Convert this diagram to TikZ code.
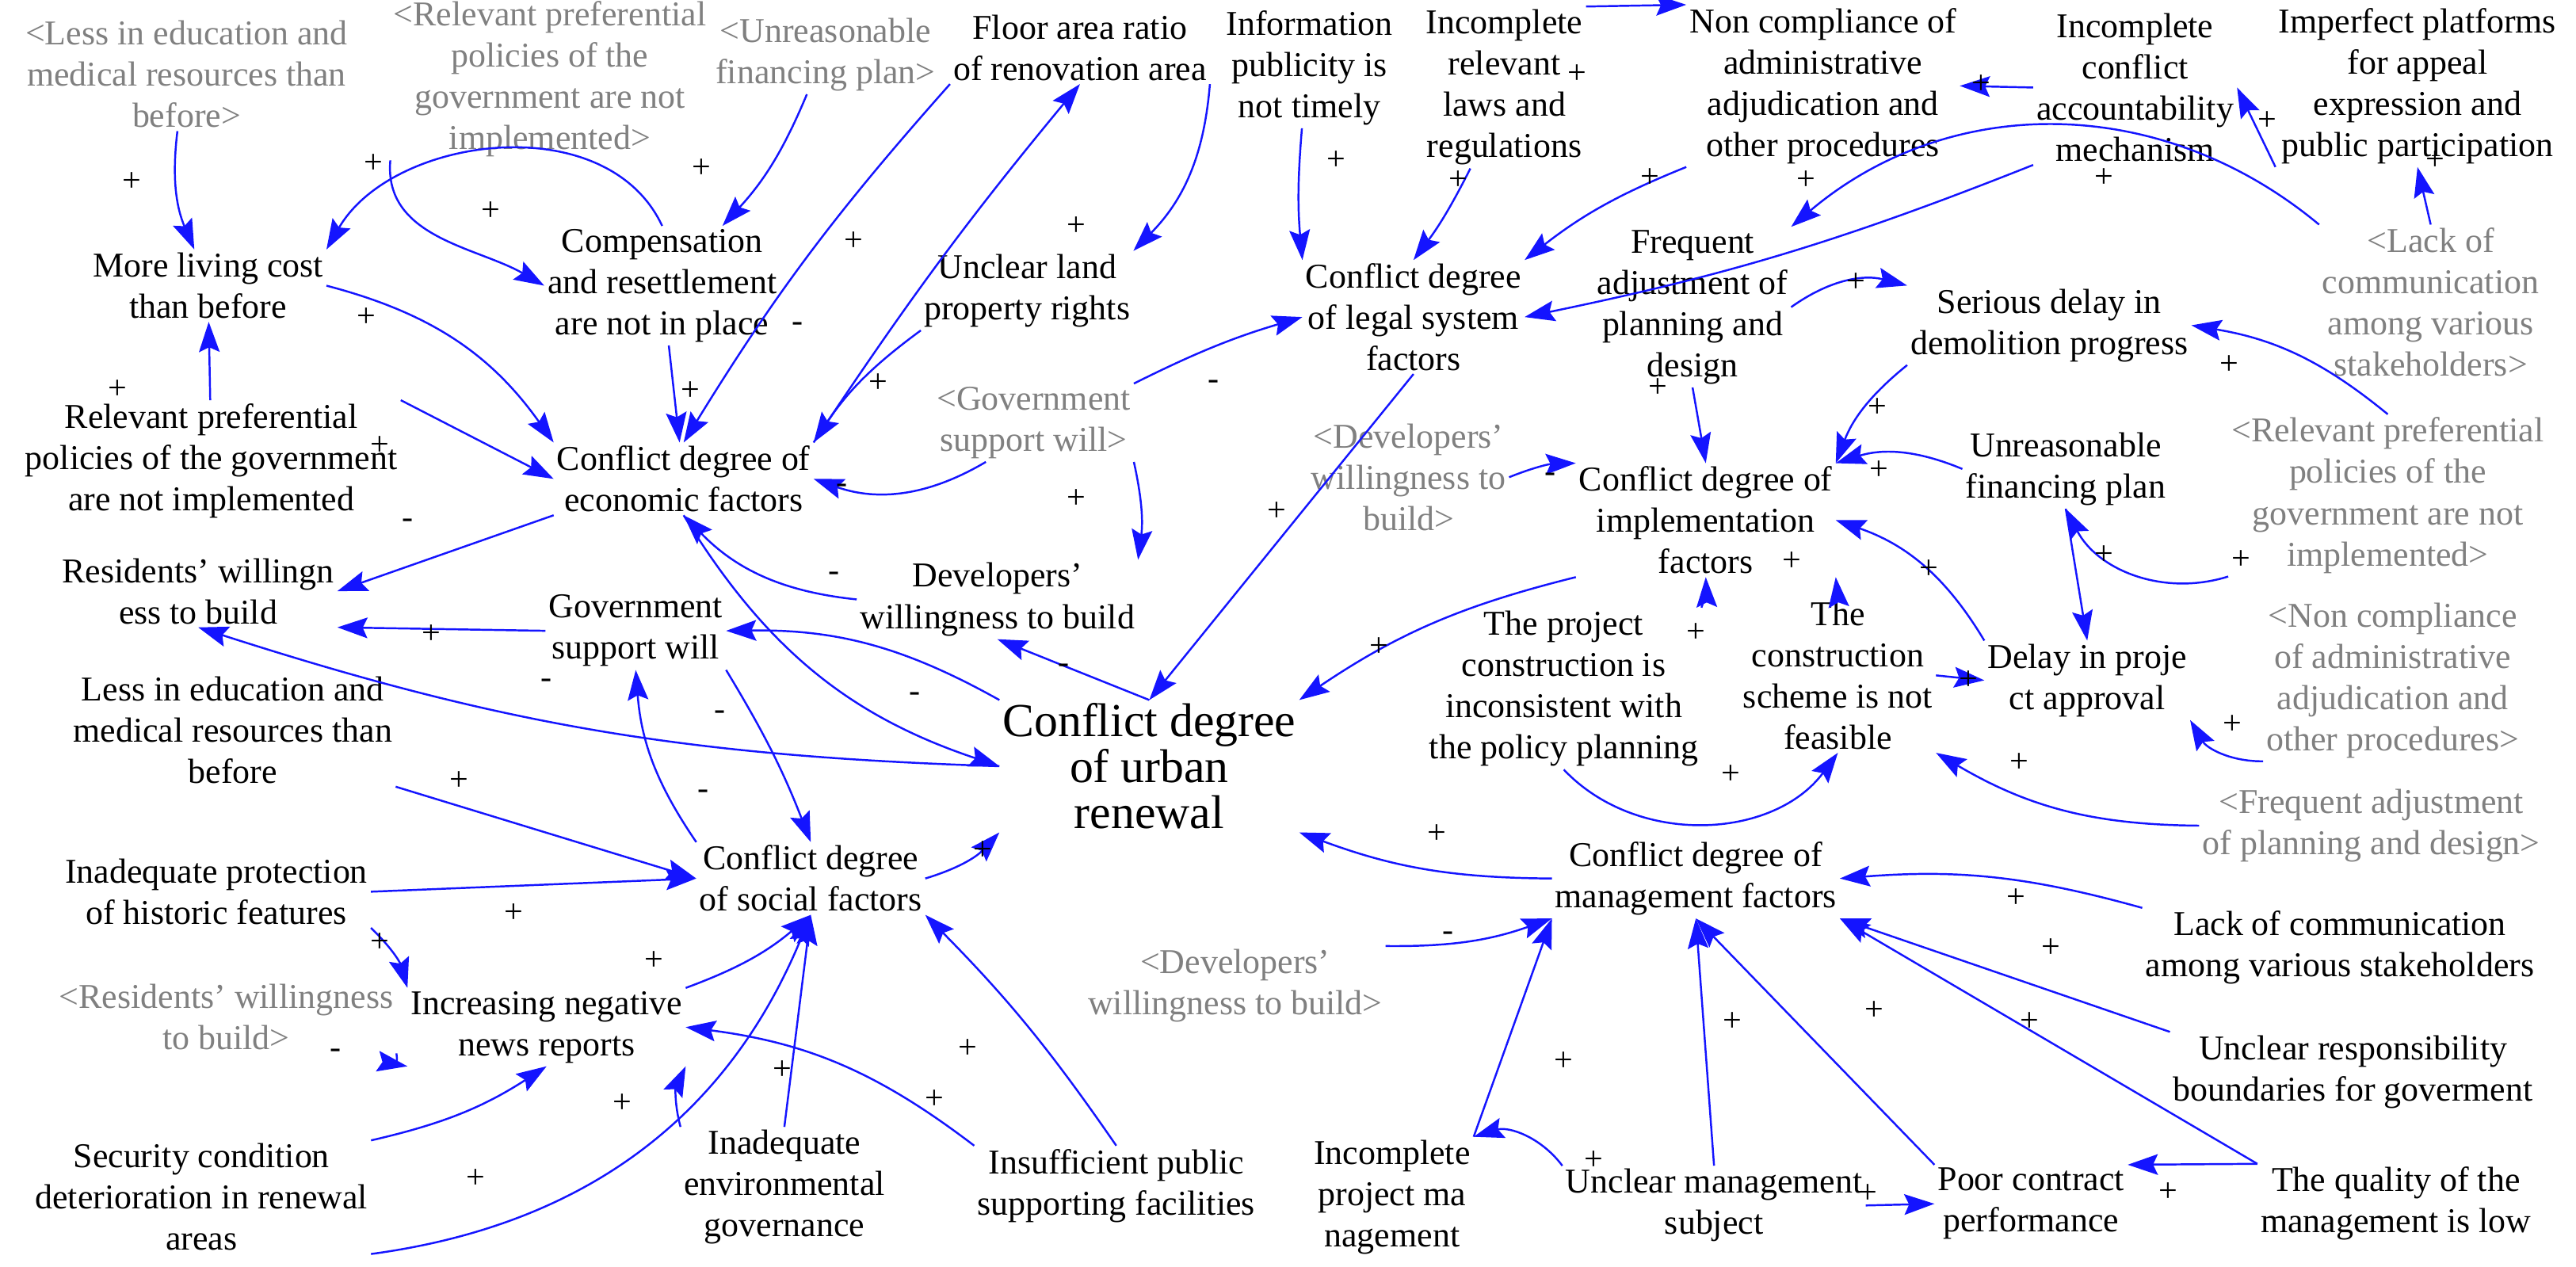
\documentclass[tikz,border=0pt]{standalone}
\usepackage{fontspec}
\setmainfont{Liberation Serif}
\usetikzlibrary{arrows.meta}
\definecolor{linkblue}{RGB}{20,20,255}
\definecolor{shadowgray}{RGB}{128,128,128}
\begin{document}
\begin{tikzpicture}[
                x=0.2084mm, y=0.2084mm,
                Var/.style={align=center, inner sep=1pt, font=\fontsize{12.5}{14.8}\selectfont},
                ShadowVar/.style={Var, text=shadowgray},
                Link/.style={draw=linkblue, line width=0.7pt, -{Stealth[length=3.8mm, width=2.6mm, inset=0.6mm, fill=linkblue]}},
                Sign/.style={inner sep=0pt, font=\fontsize{12}{12}\selectfont},
            ]
            \useasboundingbox (0,0) rectangle (1560,-767);
            % economic side
            \node [ShadowVar] (gedu) at (113,-45) {<Less in education and\\medical resources than\\before>};
            \node [ShadowVar] (gpref) at (333,-48) {<Relevant preferential\\policies of the\\government are not\\implemented>};
            \node [ShadowVar] (gfin) at (500,-33) {<Unreasonable\\financing plan>};
            \node [Var] (floor) at (654,-29) {Floor area ratio\\of renovation area};
            \node [Var] (cost) at (126,-173) {More living cost\\than before};
            \node [Var] (comp) at (401,-173) {Compensation\\and resettlement\\are not in place};
            \node [Var] (land) at (622,-176) {Unclear land\\property rights};
            \node [Var] (pref) at (128,-279) {Relevant preferential\\policies of the government\\are not implemented};
            \node [Var] (econ) at (414,-290) {Conflict degree of\\economic factors};
            \node [ShadowVar] (ggov) at (626,-256) {<Government\\support will>};
            \node [Var] (resi) at (120,-358) {Residents' willingn\\ess to build};
            \node [Var] (dev) at (604,-363) {Developers'\\willingness to build};
            \node [Var] (gov) at (385,-382) {Government\\support will};
            % social side
            \node [Var] (edu) at (141,-442) {Less in education and\\medical resources than\\before};
            \node [Var, font=\fontsize{17}{16.5}\selectfont] (urban) at (696,-464) {Conflict degree\\of urban\\renewal};
            \node [Var] (social) at (491,-532) {Conflict degree\\of social factors};
            \node [Var] (hist) at (131,-540) {Inadequate protection\\of historic features};
            \node [Var] (news) at (331,-622) {Increasing negative\\news reports};
            \node [ShadowVar] (gresi) at (137,-616) {<Residents' willingness\\to build>};
            \node [Var] (secu) at (122,-725) {Security condition\\deterioration in renewal\\areas};
            \node [Var] (env) at (475,-719) {Inadequate\\environmental\\governance};
            \node [Var] (pub) at (676,-718) {Insufficient public\\supporting facilities};
            % legal and implementation side
            \node [Var] (info) at (793,-41) {Information\\publicity is\\not timely};
            \node [Var] (laws) at (911,-53) {Incomplete\\relevant\\laws and\\regulations};
            \node [Var] (noncomp) at (1104,-52) {Non compliance of\\administrative\\adjudication and\\other procedures};
            \node [Var] (account) at (1293,-53) {Incomplete\\conflict\\accountability\\mechanism};
            \node [Var] (appeal) at (1464,-52) {Imperfect platforms\\for appeal\\expression and\\public participation};
            \node [Var] (legal) at (856,-192) {Conflict degree\\of legal system\\factors};
            \node [Var] (freq) at (1025,-186) {Frequent\\adjustment of\\planning and\\design};
            \node [Var] (demol) at (1241,-197) {Serious delay in\\demolition progress};
            \node [ShadowVar] (gcomm) at (1472,-183) {<Lack of\\communication\\among various\\stakeholders>};
            \node [ShadowVar] (gdev) at (853,-289) {<Developers'\\willingness to\\build>};
            \node [Var] (impl) at (1033,-315) {Conflict degree of\\implementation\\factors};
            \node [Var] (fin) at (1251,-284) {Unreasonable\\financing plan};
            \node [ShadowVar] (gpref2) at (1446,-300) {<Relevant preferential\\policies of the\\government are not\\implemented>};
            \node [Var] (incons) at (947,-417) {The project\\construction is\\inconsistent with\\the policy planning};
            \node [Var] (scheme) at (1113,-409) {The\\construction\\scheme is not\\feasible};
            \node [Var] (delay) at (1264,-412) {Delay in proje\\ct approval};
            \node [ShadowVar] (gnon) at (1449,-412) {<Non compliance\\of administrative\\adjudication and\\other procedures>};
            \node [ShadowVar] (gfreq) at (1436,-500) {<Frequent adjustment\\of planning and design>};
            % management side
            \node [Var] (mgmt) at (1027,-532) {Conflict degree of\\management factors};
            \node [ShadowVar] (gdev2) at (748,-597) {<Developers'\\willingness to build>};
            \node [Var] (comm) at (1417,-574) {Lack of communication\\among various stakeholders};
            \node [Var] (resp) at (1425,-649) {Unclear responsibility\\boundaries for goverment};
            \node [Var] (projm) at (843,-725) {Incomplete\\project ma\\nagement};
            \node [Var] (subj) at (1038,-730) {Unclear management\\subject};
            \node [Var] (contract) at (1230,-729) {Poor contract\\performance};
            \node [Var] (quality) at (1451,-729) {The quality of the\\management is low};

            \draw [Link] (gedu) to [bend right=15] (cost);
            \draw [Link] (comp.north) to [out=115, in=60] (cost.north east);
            \draw [Link] (gpref.south west) to [out=-95, in=150] (comp.west);
            \draw [Link] (gfin) to [bend left=10] (comp);
            \draw [Link] (floor.south east) to [bend left=20] (land.north east);
            \draw [Link] (floor.south west) to [bend right=5] (econ.north);
            \draw [Link] (econ.north east) to [bend left=3] (floor.south);
            \draw [Link] (comp) -- (econ);
            \draw [Link] (cost.east) to [bend left=20] (econ.north west);
            \draw [Link] (land.south west) to [bend right=10] (econ.north east);
            \draw [Link] (pref) -- (cost);
            \draw [Link] (pref.north east) -- (econ.west);
            \draw [Link] (ggov) to [bend left=25] (econ.east);
            \draw [Link] (ggov.south east) to [bend left=10] (dev.north east);
            \draw [Link] (econ.south west) -- (resi.east);
            \draw [Link] (gov.west) -- (resi.south east);
            \draw [Link] (dev.west) to [bend left=20] (econ.south);
            \draw [Link] (econ.south) to [bend right=20] (urban.west);
            \draw [Link] (urban.north west) to [bend right=15] (gov.east);
            \draw [Link] (urban.north) -- (dev.south);
            \draw [Link] (urban.west) to [bend left=8] (resi.south);
            \draw [Link] (gov.south east) to [bend left=5] (social.north);
            \draw [Link] (social.north west) to [bend left=15] (gov.south);
            \draw [Link] (edu.south east) -- (social.west);
            \draw [Link] (hist.east) -- (social.west);
            \draw [Link] (hist.south east) to [bend left=15] (news.north west);
            \draw [Link] (news.north east) to [bend right=10] (social.south);
            \draw [Link] (gresi.south east) to [bend right=40] (news.south west);
            \draw [Link] (secu.north east) to [bend right=10] (news.south);
            \draw [Link] (secu.south east) to [bend right=30] (social.south);
            \draw [Link] (env.north west) to [bend left=20] (news.south east);
            \draw [Link] (env.north) -- (social.south);
            \draw [Link] (pub.north west) to [bend right=15] (news.east);
            \draw [Link] (pub.north) to [bend right=5] (social.south east);
            \draw [Link] (social.east) to [bend right=15] (urban.south west);
            \draw [Link] (ggov.north east) to [bend left=5] (legal.west);
            \draw [Link] (legal.south) -- (urban.north);
            \draw [Link] (info) to [bend right=5] (legal.north west);
            \draw [Link] (laws) to [bend left=5] (legal.north);
            \draw [Link] (noncomp.south west) to [bend right=8] (legal.north east);
            \draw [Link] (account.south west) to [bend left=5] (legal.east);
            \draw [Link] (account.west) -- (noncomp.east);
            \draw [Link] (laws.north east) -- (noncomp.north west);
            \draw [Link] (gcomm.north west) to [bend right=40] (freq.north east);
            \draw [Link] (gcomm.north) -- (appeal.south);
            \draw [Link] (appeal.south west) -- (account.east);
            \draw [Link] (freq.east) to [bend left=25] (demol.north west);
            \draw [Link] (freq.south) -- (impl.north);
            \draw [Link] (demol.south west) to [bend right=15] (impl.north east);
            \draw [Link] (gpref2.north) to [bend right=15] (demol.east);
            \draw [Link] (fin.west) to [bend right=20] (impl.north east);
            \draw [Link] (gdev.east) to [bend left=10] (impl.north west);
            \draw [Link] (impl.south west) to [bend right=10] (urban.north east);
            \draw [Link] (fin.south) -- (delay.north);
            \draw [Link] (gpref2.south west) to [bend left=40] (fin.south);
            \draw [Link] (delay.north west) to [bend right=20] (impl.east);
            \draw [Link] (scheme.north) -- (impl.south east);
            \draw [Link] (incons.north east) to [bend right=10] (impl.south);
            \draw [Link] (incons.south) to [bend right=50] (scheme.south);
            \draw [Link] (scheme.east) -- (delay.west);
            \draw [Link] (gnon.south west) to [bend left=30] (delay.south east);
            \draw [Link] (gfreq.west) to [bend left=15] (scheme.south east);
            \draw [Link] (mgmt.west) to [bend left=10] (urban.south east);
            \draw [Link] (comm.north west) to [bend right=10] (mgmt.east);
            \draw [Link] (resp.north west) -- (mgmt.south east);
            \draw [Link] (quality.north west) -- (mgmt.south east);
            \draw [Link] (contract.north west) -- (mgmt.south);
            \draw [Link] (subj.north) -- (mgmt.south);
            \draw [Link] (projm.north east) -- (mgmt.south west);
            \draw [Link] (gdev2.north east) to [bend right=10] (mgmt.south west);
            \draw [Link] (subj.north west) to [bend right=35] (projm.north east);
            \draw [Link] (subj.east) -- (contract.west);
            \draw [Link] (quality.north west) -- (contract.north east);

            % polarities
            \foreach \x/\y [count=\i] in {80/110, 226/99, 297/128, 425/102, 652/137, 517/146, 418/237, 222/192, 532/232, 71/236, 230/270, 652/302, 261/384,
                278/473, 311/553, 230/571, 396/582, 288/714, 377/668, 474/648, 586/635, 566/666, 595/515,
                773/310, 809/97, 883/109, 999/108, 1094/109, 1200/51, 955/45, 1274/108, 1475/97, 1373/73, 1124/171, 1004/235, 1137/247,
                1350/221, 1138/285, 835/392, 1274/336, 1357/339, 1168/345, 1085/340, 1027/383, 1048/469, 1192/412, 1352/439, 1223/462,
                870/505, 1221/544, 1242/574, 1229/619, 1135/612, 1049/619, 947/643, 965/703, 1131/723, 1313/722}
                \node [Sign] (p\i) at (\x,-\y) {+};
            \foreach \x/\y [count=\i] in {483/198, 510/296, 247/317, 505/349, 554/422, 644/405, 331/414, 436/433, 426/481, 735/233,
                203/638, 939/289, 877/567}
                \node [Sign] (m\i) at (\x,-\y) {-};
        \end{tikzpicture}
\end{document}
